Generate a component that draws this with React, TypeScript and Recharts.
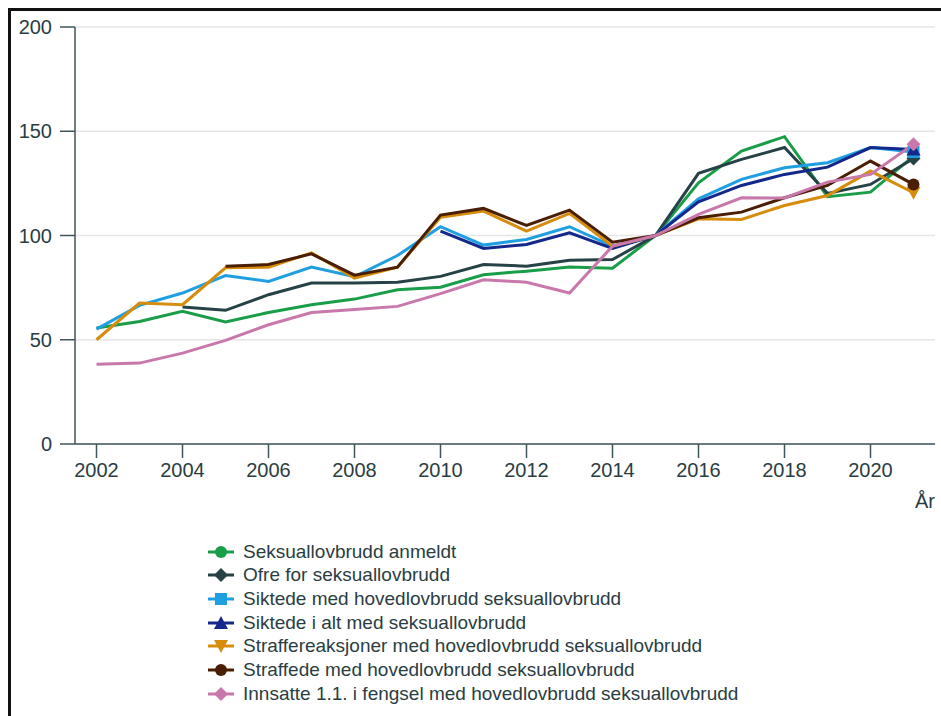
import { CartesianGrid, Label, Line, LineChart, XAxis, YAxis } from 'recharts';
import type { ReactNode } from 'react';

const years = [
  2002, 2003, 2004, 2005, 2006, 2007, 2008, 2009, 2010, 2011,
  2012, 2013, 2014, 2015, 2016, 2017, 2018, 2019, 2020, 2021,
];

const anmeldt = [55.6, 58.8, 63.6, 58.5, 63.1, 66.8, 69.5, 74.0, 75.2, 81.2, 82.9, 84.9, 84.3, 100, 125.3, 140.5, 147.4, 118.6, 120.8, 138.1];
const ofre = [null, null, 65.7, 64.1, 71.6, 77.2, 77.2, 77.6, 80.4, 86.1, 85.3, 88.1, 88.5, 100, 129.8, 136.5, 142.2, 120.2, 124.5, 136.9];
const siktedeHoved = [55.1, 66.5, 72.4, 80.8, 78.0, 84.9, 80.2, 90.4, 104.2, 95.4, 98.1, 104.2, 94.9, 100, 117.6, 126.9, 132.5, 134.9, 142.2, 140.1];
const siktedeIAlt = [null, null, null, null, null, null, null, null, 102.1, 93.8, 95.7, 101.3, 93.8, 100, 116.2, 124.0, 129.3, 132.8, 142.2, 141.3];
const straffereaksjoner = [50, 67.6, 66.8, 84.5, 84.8, 91.7, 79.6, 84.8, 108.8, 111.7, 102.1, 110.6, 94.9, 100, 108.0, 107.7, 114.4, 119.2, 130.9, 120.5];
const straffede = [null, null, null, 85.3, 86.1, 91.2, 81.0, 84.8, 109.8, 113.0, 104.8, 112.2, 96.8, 100, 108.5, 111.2, 118.1, 124.0, 135.7, 124.5];
const innsatte = [38.3, 38.8, 43.6, 49.7, 57.2, 63.1, 64.5, 66.0, 72.1, 78.8, 77.6, 72.4, 94.9, 100, 110.1, 118.1, 118.0, 125.6, 129.3, 143.8];

const xTicks = [2002, 2004, 2006, 2008, 2010, 2012, 2014, 2016, 2018, 2020];
const yTicks = [0, 50, 100, 150, 200];

type Shape = 'circle' | 'diamond' | 'square' | 'triangle' | 'triangleDown';

const series: { key: string; name: string; color: string; shape: Shape; values: (number | null)[] }[] = [
  { key: 'anmeldt', name: 'Seksuallovbrudd anmeldt', color: '#1a9d49', shape: 'circle', values: anmeldt },
  { key: 'ofre', name: 'Ofre for seksuallovbrudd', color: '#274247', shape: 'diamond', values: ofre },
  { key: 'siktedeHoved', name: 'Siktede med hovedlovbrudd seksuallovbrudd', color: '#1f9fe2', shape: 'square', values: siktedeHoved },
  { key: 'siktedeIAlt', name: 'Siktede i alt med seksuallovbrudd', color: '#13288a', shape: 'triangle', values: siktedeIAlt },
  { key: 'straffereaksjoner', name: 'Straffereaksjoner med hovedlovbrudd seksuallovbrudd', color: '#d68c0c', shape: 'triangleDown', values: straffereaksjoner },
  { key: 'straffede', name: 'Straffede med hovedlovbrudd seksuallovbrudd', color: '#4a1e04', shape: 'circle', values: straffede },
  { key: 'innsatte', name: 'Innsatte 1.1. i fengsel med hovedlovbrudd seksuallovbrudd', color: '#c978ab', shape: 'diamond', values: innsatte },
];

const data = years.map((year, i) => {
  const row: Record<string, number | null> = { year };
  series.forEach((s) => {
    row[s.key] = s.values[i];
  });
  return row;
});

const textColor = '#2a3d42';
const axisColor = '#3f555a';
const font = '"Liberation Sans", Arial, sans-serif';

function marker(shape: Shape, cx: number, cy: number, color: string, size = 6): ReactNode {
  switch (shape) {
    case 'circle':
      return <circle cx={cx} cy={cy} r={size} fill={color} />;
    case 'diamond':
      return <polygon points={`${cx},${cy - size - 1} ${cx + size + 1},${cy} ${cx},${cy + size + 1} ${cx - size - 1},${cy}`} fill={color} />;
    case 'square':
      return <rect x={cx - size} y={cy - size} width={size * 2} height={size * 2} fill={color} />;
    case 'triangle':
      return <polygon points={`${cx},${cy - size - 1} ${cx + size + 1},${cy + size} ${cx - size - 1},${cy + size}`} fill={color} />;
    default:
      return <polygon points={`${cx - size - 1},${cy - size} ${cx + size + 1},${cy - size} ${cx},${cy + size + 1}`} fill={color} />;
  }
}

// only the 2021 point gets a marker
function lastDot(shape: Shape, color: string) {
  return (props: any) => {
    const { cx, cy, index } = props;
    if (index !== years.length - 1 || cx == null || cy == null) return <g key={`d-${index}`} />;
    return <g key={`d-${index}`}>{marker(shape, cx, cy, color)}</g>;
  };
}

export default function App() {
  return (
    <div
      style={{
        position: 'fixed',
        left: 8,
        top: 8,
        right: 0,
        bottom: 0,
        borderTop: '3px solid #111',
        borderLeft: '3px solid #111',
        background: '#fff',
        fontFamily: font,
      }}
    >
      <LineChart
        width={930}
        height={500}
        data={data}
        margin={{ top: 16, right: 6, bottom: 3, left: 0 }}
        style={{ fontFamily: font }}
      >
        <CartesianGrid vertical={false} stroke="#e6e6e6" strokeWidth={1.5} />
        <XAxis
          dataKey="year"
          type="number"
          domain={[2001.5, 2021.5]}
          ticks={xTicks}
          height={64}
          tickSize={14}
          tickMargin={5}
          stroke={axisColor}
          strokeWidth={1.5}
          tick={{ fill: textColor, fontSize: 20 }}
        >
          <Label value="År" position="insideBottomRight" offset={0} fill={textColor} fontSize={20} />
        </XAxis>
        <YAxis
          domain={[0, 200]}
          ticks={yTicks}
          width={64}
          tickSize={15}
          tickMargin={8}
          stroke={axisColor}
          strokeWidth={1.5}
          tick={{ fill: textColor, fontSize: 20 }}
        />
        {series.map((s) => (
          <Line
            key={s.key}
            dataKey={s.key}
            name={s.name}
            stroke={s.color}
            strokeWidth={3}
            dot={lastDot(s.shape, s.color)}
            activeDot={false}
            isAnimationActive={false}
          />
        ))}
      </LineChart>
      <div style={{ position: 'absolute', left: 197, top: 529, color: textColor, fontSize: 19 }}>
        {series.map((s) => (
          <div key={s.key} style={{ display: 'flex', alignItems: 'center', height: 23.67 }}>
            <svg width={28} height={20} style={{ marginRight: 7 }}>
              <line x1={0} y1={10} x2={26} y2={10} stroke={s.color} strokeWidth={3} />
              {marker(s.shape, 13, 10, s.color, 6)}
            </svg>
            <span>{s.name}</span>
          </div>
        ))}
      </div>
    </div>
  );
}
